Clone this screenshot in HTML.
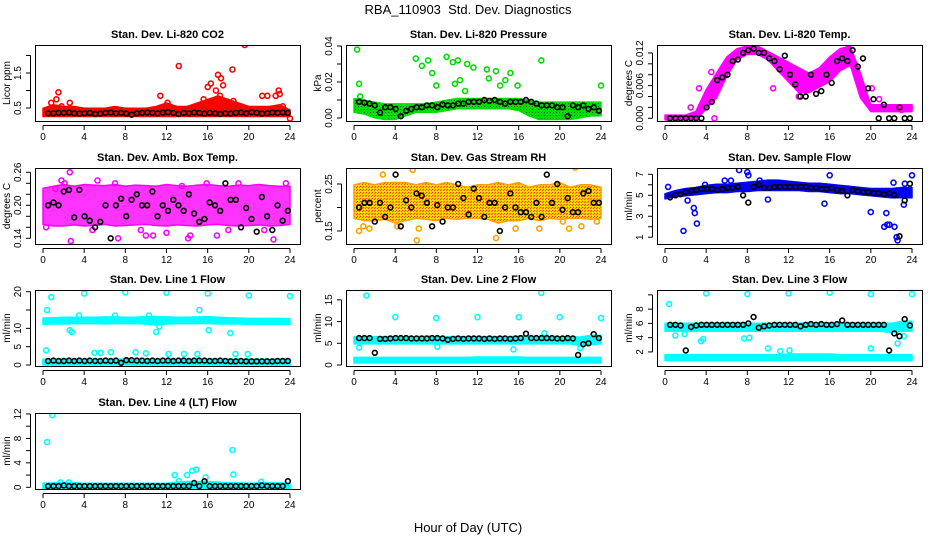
<!DOCTYPE html>
<html><head><meta charset="utf-8"><title>RBA_110903 Std. Dev. Diagnostics</title>
<style>
html,body{margin:0;padding:0;background:#fff;}
svg{display:block;font-family:"Liberation Sans",sans-serif;}
</style></head>
<body>
<svg id="fig" width="936" height="540" viewBox="0 0 936 540" xmlns="http://www.w3.org/2000/svg">
<defs>
<pattern id="rhpat" width="3" height="3" patternUnits="userSpaceOnUse">
<rect width="3" height="3" fill="#ffd000"/><rect x="0" y="0" width="1" height="1" fill="#ff3000"/><rect x="2" y="1" width="1" height="1" fill="#ff5000"/><rect x="1" y="2" width="1" height="1" fill="#ffe800"/>
</pattern>
<pattern id="grpat" width="3" height="3" patternUnits="userSpaceOnUse">
<rect width="3" height="3" fill="#00e000"/><rect x="1" y="1" width="1" height="1" fill="#006000"/>
</pattern>
</defs>
<text x="468" y="14" text-anchor="middle" font-size="13">RBA_110903&#160; Std. Dev. Diagnostics</text>
<text x="468" y="532" text-anchor="middle" font-size="13">Hour of Day (UTC)</text>
</svg>
<script>
// ---------- data ----------
const hours = [0,1,2,3,4,5,6,7,8,9,10,11,12,13,14,15,16,17,18,19,20,21,22,23,24];
const xTicks = [0,4,8,12,16,20,24];

// Panel 1: Li-820 CO2
const co2BandLo = [0.3,0.3,0.3,0.3,0.3,0.3,0.3,0.3,0.3,0.3,0.3,0.3,0.3,0.3,0.3,0.3,0.3,0.3,0.3,0.3,0.3,0.3,0.3,0.3,0.3];
const co2BandHi = [0.45,0.55,0.5,0.5,0.45,0.45,0.45,0.5,0.45,0.45,0.45,0.5,0.6,0.5,0.5,0.6,0.7,0.8,0.7,0.6,0.5,0.5,0.5,0.55,0.4];
const co2Black = [0.35,0.35,0.36,0.36,0.37,0.35,0.34,0.35,0.36,0.33,0.34,0.36,0.37,0.35,0.36,0.34,0.31,0.35,0.36,0.37,0.36,0.35,0.37,0.38,0.36,0.33,0.36,0.35,0.37,0.36,0.34,0.36,0.35,0.33,0.35,0.34,0.36,0.37,0.35,0.38,0.36,0.34,0.35,0.37,0.36,0.37,0.36];
const co2OutX = [1.5,1.3,0.8,2.6,1.8,11.4,13.2,12.1,15.6,16,16.3,16.8,17,17.3,17.5,17.2,18.4,18.5,19.6,21.3,21.8,22.6,22.9,23,23.3,24];
const co2OutY = [0.95,0.75,0.65,0.65,0.55,0.85,1.7,0.65,0.75,1.1,1.2,1.0,1.45,1.35,1.15,0.85,1.6,0.7,2.3,0.85,0.85,0.85,1.0,0.9,0.55,0.2];

// Panel 2: Li-820 Pressure
const prBandLo = [0.004,0.003,0.001,0.0,0.0,0.002,0.004,0.004,0.004,0.005,0.006,0.006,0.006,0.006,0.006,0.006,0.005,0.002,0.0,0.0,0.0,0.0,0.001,0.002,0.002];
const prBandHi = [0.010,0.009,0.008,0.007,0.007,0.007,0.007,0.007,0.008,0.009,0.010,0.010,0.010,0.010,0.010,0.010,0.010,0.009,0.008,0.008,0.008,0.008,0.008,0.008,0.008];
const prBlack = [0.009,0.0085,0.008,0.007,0.003,0.006,0.006,0.005,0.001,0.004,0.005,0.006,0.006,0.007,0.007,0.006,0.0075,0.007,0.007,0.008,0.008,0.009,0.009,0.009,0.010,0.0095,0.010,0.009,0.008,0.009,0.009,0.009,0.010,0.009,0.008,0.007,0.007,0.007,0.006,0.006,0.001,0.007,0.006,0.007,0.005,0.006,0.004];
const prOutX = [0.3,0.5,0.6,6,6.6,7.2,7.6,8,9,9.6,9.8,10.1,10.3,10.8,11,11.6,12.9,13.1,13.8,14.2,14.7,15.2,15.9,18.2,24];
const prOutY = [0.038,0.019,0.012,0.033,0.029,0.032,0.025,0.018,0.034,0.031,0.019,0.032,0.021,0.015,0.030,0.028,0.027,0.022,0.026,0.018,0.021,0.025,0.018,0.032,0.018];

// Panel 3: Li-820 Temp
const ltBandLo = [0,0,0,0,0.002,0.004,0.008,0.011,0.012,0.012,0.011,0.009,0.007,0.005,0.005,0.006,0.007,0.009,0.010,0.004,0.0015,0.0015,0.0015,0.0015,0.0015];
const ltBandHi = [0.0003,0.0003,0.0003,0.001,0.005,0.008,0.011,0.0125,0.013,0.013,0.012,0.011,0.010,0.009,0.008,0.009,0.011,0.0125,0.013,0.008,0.0022,0.0022,0.0022,0.0022,0.0022];
const ltBlack = [0,0,0,0,0,0,0,0.002,0.003,0.007,0.0075,0.008,0.0105,0.0108,0.012,0.0125,0.0128,0.012,0.012,0.011,0.0105,0.009,0.0115,0.008,0.0062,0.004,0.004,0.008,0.0045,0.005,0.008,0.0065,0.0105,0.011,0.0105,0.0125,0.0095,0.011,0.0055,0.0035,0,0.0025,0,0,0.002,0,0];
const ltOutX = [4.8,2.5,3.3,4.5,10.5,13,15.8,20.1,20.8,23,23.8,0.3,1,2,3];
const ltOutY = [0,0.002,0.0055,0.0085,0.0055,0.004,0.0075,0.0055,0.0035,0.0015,0.002,0,0,0,0];

// Panel 4: Amb. Box Temp
const abBandLo = [0.168,0.165,0.165,0.167,0.165,0.166,0.168,0.165,0.166,0.167,0.168,0.166,0.165,0.167,0.166,0.165,0.167,0.168,0.166,0.165,0.166,0.167,0.165,0.166,0.168];
const abBandHi = [0.228,0.232,0.235,0.232,0.235,0.234,0.233,0.235,0.232,0.234,0.233,0.232,0.235,0.233,0.232,0.234,0.235,0.233,0.232,0.234,0.233,0.235,0.233,0.232,0.232];
const abBlack = [0.20,0.205,0.20,0.225,0.228,0.178,0.228,0.180,0.172,0.16,0.17,0.20,0.14,0.20,0.212,0.18,0.21,0.22,0.20,0.20,0.225,0.18,0.20,0.19,0.21,0.20,0.19,0.22,0.185,0.17,0.175,0.205,0.20,0.19,0.24,0.21,0.21,0.16,0.195,0.175,0.152,0.215,0.18,0.155,0.20,0.172,0.19];
const abOutX = [1.8,2.1,2.6,2.7,5.3,7,7.3,10,10.7,14.3,14.1,15.9,16.9,19,22.4,23.6,1.2,4.8,12,21.5,0.3,9.5,13.5,18];
const abOutY = [0.245,0.24,0.26,0.135,0.245,0.24,0.14,0.145,0.145,0.145,0.14,0.24,0.145,0.24,0.138,0.24,0.23,0.155,0.15,0.155,0.16,0.155,0.235,0.155];

// Panel 5: Gas Stream RH
const rhBandLo = [0.18,0.175,0.175,0.178,0.17,0.175,0.18,0.178,0.175,0.18,0.178,0.18,0.18,0.178,0.17,0.175,0.175,0.18,0.175,0.18,0.178,0.18,0.18,0.178,0.18];
const rhBandHi = [0.245,0.25,0.245,0.25,0.25,0.25,0.245,0.25,0.245,0.25,0.245,0.24,0.245,0.245,0.25,0.245,0.25,0.24,0.245,0.245,0.25,0.24,0.245,0.245,0.24];
const rhBlack = [0.20,0.21,0.21,0.17,0.21,0.18,0.20,0.27,0.16,0.215,0.20,0.23,0.225,0.21,0.16,0.205,0.17,0.20,0.20,0.25,0.22,0.185,0.24,0.22,0.18,0.21,0.21,0.15,0.20,0.23,0.20,0.19,0.19,0.18,0.21,0.18,0.27,0.21,0.25,0.195,0.22,0.19,0.19,0.23,0.235,0.21,0.21];
const rhOutX = [0.5,0.9,1.5,2.8,5.7,6.1,6.3,4.2,13.8,15.7,18,20.3,20.9,21.5,22.1,23.6];
const rhOutY = [0.15,0.16,0.155,0.27,0.28,0.13,0.155,0.16,0.135,0.155,0.155,0.17,0.155,0.285,0.16,0.17];

// Panel 6: Sample Flow
const sfBandLo = [4.8,5.0,5.1,5.2,5.3,5.4,5.4,5.5,5.5,5.6,5.6,5.6,5.6,5.6,5.5,5.5,5.4,5.3,5.3,5.2,5.1,5.0,4.9,4.9,4.9];
const sfBandHi = [5.0,5.3,5.5,5.6,5.8,5.9,5.9,6.0,6.1,6.2,6.3,6.3,6.2,6.1,6.0,6.0,5.9,5.8,5.7,5.6,5.5,5.5,5.5,5.6,5.6];
const sfBlack = [4.8,5.0,5.1,5.3,5.4,5.5,5.6,5.6,5.6,5.5,5.6,5.7,5.7,5.8,5.0,4.3,5.8,6.0,5.7,5.7,5.8,5.8,5.8,5.8,5.8,5.8,5.8,5.7,5.7,5.6,5.6,5.7,5.5,5.4,5.0,5.5,5.4,5.3,5.3,5.2,5.2,5.1,5.2,5.0,1.1,4.5,6.1];
const sfOutX = [0.3,1.8,2.2,2.8,2.9,3.1,3.9,5.8,6.4,7.2,8,8.1,10,9.2,16,15.5,20,21.5,21.3,21.8,22.2,22.3,22.5,22.6,23.2,23.3,24,21.6];
const sfOutY = [5.8,1.6,4.5,3.8,3.3,2.3,6.0,6.4,6.4,7.4,7.2,6.9,4.6,6.4,6.9,4.2,3.4,3.3,2.0,2.2,6.2,2.0,1.0,0.7,4.1,6.1,6.9,2.2];

// Panel 7: Line 1 Flow
const l1BandLo = [11.5,11.6,11.6,11.7,11.7,11.7,11.6,11.7,11.7,11.7,11.6,11.3,11.6,11.7,11.7,11.7,11.7,11.6,11.6,11.6,11.5,11.5,11.5,11.5,11.5];
const l1BandHi = [12.4,12.5,12.6,12.6,12.6,12.6,12.7,12.7,12.6,12.6,12.8,12.8,12.7,12.6,12.6,12.7,12.8,12.6,12.5,12.4,12.3,12.3,12.3,12.3,12.2];
const l1Band2Lo = [0.4,0.4,0.4,0.4,0.4,0.4,0.4,0.4,0.4,0.4,0.4,0.4,0.4,0.4,0.4,0.4,0.4,0.4,0.4,0.4,0.4,0.4,0.4,0.4,0.4];
const l1Band2Hi = [1.2,1.2,1.2,1.2,1.2,1.2,1.2,1.2,1.2,1.2,1.2,1.2,1.2,1.2,1.2,1.2,1.2,1.2,1.2,1.2,1.2,1.2,1.2,1.2,1.2];
const l1Black = [1.1,1.2,1.1,1.1,1.2,1.1,1.2,1.1,1.2,1.1,1.1,1.2,1.1,1.2,0.6,1.3,1.3,1.2,1.2,1.1,1.2,1.1,1.2,1.2,1.1,1.2,1.2,1.1,1.2,1.2,1.2,1.1,1.1,1.2,1.1,1.0,1.0,1.1,1.0,1.0,1.0,1.0,1.0,1.0,1.1,1.1,1.1];
const l1OutX = [0.3,0.2,0.4,0.8,4,8,12,16,20,24,2.6,2.8,7,11,11.3,16.1,18.2,15.2,5,5.6,6.6,9,10,12.2,13.7,15,18.7,19.9,3.5,10.3];
const l1OutY = [4,0.8,15,18.5,19.5,19.8,19.7,19.5,19,18.8,9.5,9,13.5,9,10.5,9.5,8.7,15,3.3,3.3,3.5,3.5,3.2,3,3,3,3,3,13.5,13.5];

// Panel 8: Line 2 Flow
const l2BandLo = [5.2,5.2,5.2,5.2,5.2,5.2,5.2,5.2,5.2,5.2,5.2,5.2,5.2,5.2,5.2,5.2,5.2,5.2,5.2,5.2,5.2,5.2,4.8,5.0,5.2];
const l2BandHi = [6.2,6.2,6.2,6.2,6.2,6.2,6.2,6.3,6.2,6.2,6.2,6.2,6.2,6.2,6.2,6.2,6.3,6.2,6.2,6.2,6.2,6.2,6.1,6.5,6.5];
const l2Band2Lo = [0.8,0.8,0.8,0.8,0.8,0.8,0.8,0.8,0.8,0.8,0.8,0.8,0.8,0.8,0.8,0.8,0.8,0.8,0.8,0.8,0.8,0.8,0.8,0.8,0.8];
const l2Band2Hi = [1.4,1.4,1.4,1.4,1.4,1.4,1.4,1.4,1.4,1.4,1.4,1.4,1.5,1.5,1.5,1.5,1.5,1.4,1.4,1.4,1.4,1.4,1.4,1.4,1.4];
const l2Black = [6.2,6.2,6.2,2.8,6.0,6.0,6.1,6.2,6.2,6.2,6.1,6.1,6.1,6.1,6.2,6.2,6.1,5.8,6.0,6.1,6.0,6.1,6.1,6.1,6.0,6.1,6.0,6.1,6.1,6.0,6.1,6.2,7.2,6.2,6.2,6.2,6.2,6.2,6.1,6.1,6.2,6.1,2.3,4.8,5.0,7.1,6.2];
const l2OutX = [1.2,0.5,4,8,12,16,18.2,20,24,15.5,8.1,22,18.5];
const l2OutY = [16,4,11,10.8,11,11,16.6,11,10.8,3.6,4.2,3.9,7.3];

// Panel 9: Line 3 Flow
const l3BandLo = [5.1,5.1,5.1,5.1,5.1,5.1,5.1,5.1,5.1,5.1,5.1,5.1,5.1,5.1,5.1,5.1,5.1,5.1,5.1,5.1,5.1,5.1,4.9,5.1,5.1];
const l3BandHi = [5.8,5.8,5.8,5.8,5.8,5.8,5.8,5.9,5.8,5.8,5.8,5.8,5.8,5.8,5.9,5.8,5.8,5.8,5.8,5.8,5.8,5.8,5.8,6.1,6.1];
const l3Band2Lo = [1.0,1.0,1.0,1.0,1.0,1.0,1.0,1.0,1.0,1.0,1.0,1.0,1.0,1.0,1.0,1.0,1.0,1.0,1.0,1.0,1.0,1.0,1.0,1.0,1.0];
const l3Band2Hi = [1.4,1.4,1.4,1.4,1.4,1.4,1.4,1.4,1.4,1.4,1.4,1.4,1.5,1.5,1.5,1.5,1.5,1.4,1.4,1.4,1.4,1.4,1.4,1.4,1.4];
const l3Black = [5.8,5.8,5.7,2.2,5.5,5.7,5.8,5.8,5.8,5.8,5.8,5.8,5.8,5.8,5.8,6.0,6.9,5.4,5.6,5.7,5.8,5.8,5.8,5.8,5.8,5.6,5.8,5.9,5.8,5.9,5.8,5.8,5.9,6.4,5.8,5.8,5.8,5.8,5.8,5.8,5.8,5.8,2.2,4.6,4.2,6.6,5.7];
const l3OutX = [0.4,4,8,12,16,20,24,1,1.9,3.5,3.7,7.7,8.2,10,11.2,12.1,20,22.6,23.2];
const l3OutY = [8.7,10.2,10.1,10.2,10.3,10.1,10.1,4.3,4.5,3.5,3.8,3.9,4,2.5,2.1,2.2,2.5,3.2,4.2];

// Panel 10: Line 4 (LT) Flow
const l4BandLo = [0,0,0,0,0,0,0,0,0,0,0,0,0,0,0,0,0,0,0,0,0,0,0,0,0];
const l4BandHi = [0.4,0.5,0.5,0.5,0.4,0.4,0.4,0.4,0.4,0.4,0.4,0.4,0.4,0.6,0.7,0.7,0.7,0.6,0.5,0.5,0.4,0.5,0.5,0.5,0.4];
const l4Black = [0.2,0.2,0.2,0.3,0.2,0.2,0.2,0.2,0.2,0.2,0.2,0.2,0.2,0.2,0.2,0.2,0.2,0.2,0.2,0.2,0.2,0.2,0.2,0.2,0.2,0.2,0.2,0.2,0.7,0.2,1.0,0.2,0.2,0.2,0.2,0.2,0.2,0.2,0.2,0.2,0.2,0.3,0.2,0.2,0.2,0.2,1.0];
const l4OutX = [0.4,0.9,12.8,13.2,14,14.5,14.9,15.8,18.4,18.5,1.7,2.5,21.2];
const l4OutY = [7.4,11.8,2,1,2,2.7,2.9,1.6,6.1,2.1,0.8,0.8,0.9];

// ---------- rendering ----------
const NS = "http://www.w3.org/2000/svg";
const svg = document.getElementById("fig");
function mk(tag, attrs, parent){const e=document.createElementNS(NS,tag);for(const k in attrs)e.setAttribute(k,attrs[k]);(parent||svg).appendChild(e);return e;}

const panels = [
 {key:"co2",title:"Stan. Dev. Li-820 CO2",ylab:"Licor ppm",col:0,row:0,ymin:0.129,ymax:2.3,ticks:[0.5,1,1.5,2],labels:["0.5","","1.5",""],color:"#ff0000",fill:"#ff0000",
  bands:[[co2BandLo,co2BandHi]],black:co2Black,ox:co2OutX,oy:co2OutY},
 {key:"pressure",title:"Stan. Dev. Li-820 Pressure",ylab:"kPa",col:1,row:0,ymin:-0.00167,ymax:0.04056,ticks:[0,0.01,0.02,0.03,0.04],labels:["0.00","","0.02","","0.04"],color:"#00dd00",fill:"url(#grpat)",
  bands:[[prBandLo,prBandHi]],black:prBlack,ox:prOutX,oy:prOutY},
 {key:"li-temp",title:"Stan. Dev. Li-820 Temp.",ylab:"degrees C",col:2,row:0,ymin:-0.0005,ymax:0.01346,ticks:[0,0.002,0.004,0.006,0.008,0.010,0.012],labels:["0.000","","","0.006","","","0.012"],color:"#ff00ff",fill:"#ff00ff",
  bands:[[ltBandLo,ltBandHi]],black:ltBlack,ox:ltOutX,oy:ltOutY},
 {key:"amb-box",title:"Stan. Dev. Amb. Box Temp.",ylab:"degrees C",col:0,row:1,ymin:0.1296,ymax:0.2678,ticks:[0.14,0.16,0.18,0.20,0.22,0.24,0.26],labels:["0.14","","","0.20","","","0.26"],color:"#ff00ff",fill:"#ff00ff",
  bands:[[abBandLo,abBandHi]],black:abBlack,ox:abOutX,oy:abOutY,op:0.8},
 {key:"rh",title:"Stan. Dev. Gas Stream RH",ylab:"percent",col:1,row:1,ymin:0.1223,ymax:0.284,ticks:[0.15,0.20,0.25],labels:["0.15","","0.25"],color:"#ffa000",fill:"url(#rhpat)",
  bands:[[rhBandLo,rhBandHi]],black:rhBlack,ox:rhOutX,oy:rhOutY},
 {key:"sample-flow",title:"Stan. Dev. Sample Flow",ylab:"ml/min",col:2,row:1,ymin:0.356,ymax:7.6,ticks:[1,2,3,4,5,6,7],labels:["1","","3","","5","","7"],color:"#0000ff",fill:"#0000ff",
  bands:[[sfBandLo,sfBandHi]],black:sfBlack,ox:sfOutX,oy:sfOutY},
 {key:"line1",title:"Stan. Dev. Line 1 Flow",ylab:"ml/min",col:0,row:2,ymin:-0.27,ymax:20.46,ticks:[0,5,10,15,20],labels:["0","5","10","","20"],color:"#00ffff",fill:"#00ffff",
  bands:[[l1BandLo,l1BandHi],[l1Band2Lo,l1Band2Hi]],black:l1Black,ox:l1OutX,oy:l1OutY},
 {key:"line2",title:"Stan. Dev. Line 2 Flow",ylab:"ml/min",col:1,row:2,ymin:-0.23,ymax:17.27,ticks:[0,5,10,15],labels:["0","5","10","15"],color:"#00ffff",fill:"#00ffff",
  bands:[[l2BandLo,l2BandHi],[l2Band2Lo,l2Band2Hi]],black:l2Black,ox:l2OutX,oy:l2OutY},
 {key:"line3",title:"Stan. Dev. Line 3 Flow",ylab:"ml/min",col:2,row:2,ymin:0.03,ymax:10.68,ticks:[2,4,6,8,10],labels:["2","4","6","8",""],color:"#00ffff",fill:"#00ffff",
  bands:[[l3BandLo,l3BandHi],[l3Band2Lo,l3Band2Hi]],black:l3Black,ox:l3OutX,oy:l3OutY},
 {key:"line4",title:"Stan. Dev. Line 4 (LT) Flow",ylab:"ml/min",col:0,row:3,ymin:-0.28,ymax:12.16,ticks:[0,2,4,6,8,10,12],labels:["0","","4","","8","","12"],color:"#00ffff",fill:"#00ffff",
  bands:[[l4BandLo,l4BandHi]],black:l4Black,ox:l4OutX,oy:l4OutY}
];

const boxX=[35,346,657], boxW=265, boxTop=[45,168,290,413], boxH=76;

panels.forEach(p=>{
  const bx=boxX[p.col], by=boxTop[p.row], bb=by+boxH;
  const g=mk("g",{});
  
  
  const xs=h=>bx+8+h/24*247;
  const ys=v=>bb-(v-p.ymin)/(p.ymax-p.ymin)*boxH;
  const clip=mk("clipPath",{id:"clip-"+p.key},g);
  mk("rect",{x:bx,y:by,width:boxW,height:boxH},clip);
  const plot=mk("g",{"clip-path":"url(#clip-"+p.key+")"},g);
  
  
  p.bands.forEach(b=>{
    const lo=b[0], hi=b[1];
    let d="";
    hours.forEach((h,i)=>{d+=(i?"L":"M")+xs(h).toFixed(1)+","+(ys(hi[i])-1.5).toFixed(1);});
    for(let i=hours.length-1;i>=0;i--){d+="L"+xs(hours[i]).toFixed(1)+","+(ys(lo[i])+1.5).toFixed(1);}
    const band=mk("path",{d:d+"Z",fill:p.fill,"fill-opacity":p.op||1,stroke:p.color,"stroke-width":1.5,"stroke-linejoin":"round"},plot);
    
    
  });
  p.ox.forEach((h,i)=>{
    const c=mk("circle",{cx:xs(h).toFixed(1),cy:ys(p.oy[i]).toFixed(1),r:2.5,fill:"none",stroke:p.color,"stroke-width":1.6},plot);
    
    
  });
  const n=p.black.length;
  p.black.forEach((v,i)=>{
    const h=0.5+i*23.3/(n-1);
    const c=mk("circle",{cx:xs(h).toFixed(1),cy:ys(v).toFixed(1),r:2.4,fill:"none",stroke:"#000","stroke-width":1.6},plot);
    
    
  });
  const box=mk("rect",{x:bx+0.5,y:by+0.5,width:boxW,height:boxH,fill:"none",stroke:"#000","stroke-width":1},g);
  
  
  const t=mk("text",{x:bx+boxW/2,y:by-7,"text-anchor":"middle","font-size":"11","font-weight":"bold"},g);
  t.textContent=p.title;
  
  
  const xa=mk("g",{},g);
  
  
  mk("line",{x1:xs(0),y1:bb+4.5,x2:xs(24),y2:bb+4.5,stroke:"#000"},xa);
  xTicks.forEach(v=>{
    mk("line",{x1:xs(v),y1:bb+4.5,x2:xs(v),y2:bb+9,stroke:"#000"},xa);
    const tl=mk("text",{x:xs(v),y:bb+19,"text-anchor":"middle","font-size":"10"},xa);
    tl.textContent=v;
    
    
  });
  const ya=mk("g",{},g);
  
  
  const ax=bx-4.5;
  mk("line",{x1:ax,y1:ys(p.ticks[0]),x2:ax,y2:ys(p.ticks[p.ticks.length-1]),stroke:"#000"},ya);
  p.ticks.forEach((v,i)=>{
    mk("line",{x1:ax-4.5,y1:ys(v),x2:ax,y2:ys(v),stroke:"#000"},ya);
    if(p.labels[i]){
      const yy=ys(v), xx=bx-14;
      const tl=mk("text",{x:xx,y:yy,"text-anchor":"middle","font-size":"10",transform:"rotate(-90 "+xx+" "+yy+")"},ya);
      tl.textContent=p.labels[i];
      
      
    }
  });
  const yl=mk("text",{x:bx-25,y:by+boxH/2,"text-anchor":"middle","font-size":"10",transform:"rotate(-90 "+(bx-25)+" "+(by+boxH/2)+")"},g);
  yl.textContent=p.ylab;
  
  
});
</script>
</body></html>
